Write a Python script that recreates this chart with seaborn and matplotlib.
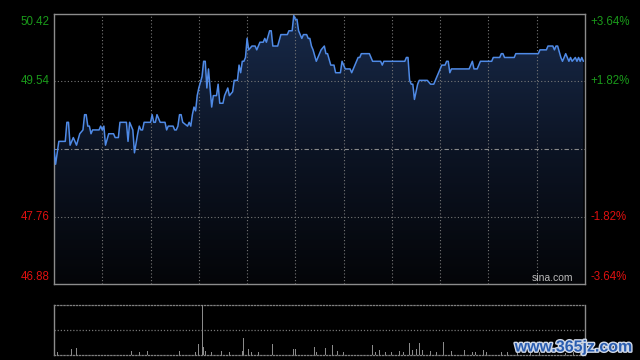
import numpy as np
import pandas as pd
import matplotlib
matplotlib.use("Agg")
import matplotlib.pyplot as plt
import seaborn as sns
from matplotlib import patheffects as pe
from matplotlib.colors import LinearSegmentedColormap
from matplotlib.patches import PathPatch

# ---- data (minute index from 09:30, HK session 330 minutes) ----
minutes = [0, 1, 3, 7, 8, 9, 10, 12, 14, 16, 18, 19, 20, 21, 22, 23, 24, 28, 29, 30,
           31, 32, 34, 37, 38, 40, 41, 45, 46, 47, 49, 50, 52, 53, 54, 55, 56, 60, 61, 62,
           63, 64, 66, 69, 70, 71, 74, 75, 76, 77, 78, 79, 80, 83, 84, 85, 86, 87, 88, 89,
           90, 92, 93, 94, 95, 96, 98, 99, 101, 102, 103, 105, 106, 108, 109, 111, 112, 114, 115, 116,
           117, 118, 119, 120, 121, 123, 125, 126, 128, 130, 131, 132, 134, 135, 136, 139, 141, 145, 146, 148,
           149, 150, 151, 152, 154, 155, 157, 158, 159, 160, 161, 163, 165, 166, 168, 169, 170, 172, 174, 175,
           178, 179, 181, 184, 185, 186, 189, 190, 191, 196, 198, 203, 204, 205, 218, 219, 220, 221, 222, 223,
           224, 226, 227, 232, 234, 236, 238, 239, 241, 243, 244, 245, 246, 247, 258, 260, 261, 263, 265, 272,
           273, 277, 278, 279, 280, 286, 287, 301, 302, 306, 307, 310, 311, 312, 313, 315, 316, 318, 320, 321,
           322, 324, 325, 326, 327, 328, 329]
prices = [48.65, 48.45, 48.75, 48.75, 49.00, 49.00, 48.70, 48.80, 48.70, 48.85, 48.90, 49.10, 49.10, 48.95, 48.95, 48.85, 48.90, 48.90, 48.95, 48.90,
          48.95, 48.70, 48.85, 48.85, 48.80, 48.80, 49.00, 49.00, 48.75, 49.00, 48.90, 48.60, 48.85, 48.95, 48.90, 48.90, 49.00, 49.00, 49.10, 49.00,
          49.00, 49.10, 49.00, 49.00, 48.90, 48.95, 48.95, 48.90, 48.90, 48.95, 49.10, 49.10, 49.00, 48.95, 49.00, 48.95, 49.10, 49.20, 49.15, 49.35,
          49.45, 49.60, 49.80, 49.80, 49.45, 49.70, 49.20, 49.35, 49.35, 49.50, 49.25, 49.25, 49.35, 49.45, 49.35, 49.40, 49.55, 49.55, 49.75, 49.65,
          49.80, 49.80, 49.85, 50.10, 49.95, 50.00, 50.00, 49.95, 50.05, 50.05, 50.10, 50.05, 50.20, 50.20, 50.00, 50.00, 50.15, 50.15, 50.20, 50.20,
          50.40, 50.35, 50.35, 50.20, 50.10, 50.15, 50.15, 50.10, 50.10, 50.00, 49.95, 49.80, 49.90, 49.95, 50.00, 49.90, 49.90, 49.75, 49.75, 49.65,
          49.65, 49.80, 49.70, 49.70, 49.65, 49.70, 49.85, 49.85, 49.90, 49.90, 49.80, 49.80, 49.75, 49.80, 49.80, 49.85, 49.85, 49.55, 49.50, 49.50,
          49.30, 49.50, 49.55, 49.55, 49.50, 49.50, 49.60, 49.65, 49.75, 49.75, 49.80, 49.80, 49.65, 49.70, 49.70, 49.80, 49.70, 49.70, 49.80, 49.80,
          49.85, 49.85, 49.90, 49.90, 49.85, 49.85, 49.90, 49.90, 49.95, 49.95, 50.00, 50.00, 49.95, 50.00, 50.00, 49.85, 49.80, 49.90, 49.80, 49.85,
          49.80, 49.85, 49.80, 49.85, 49.80, 49.85, 49.80]

vol_minutes = [2, 11, 14, 48, 53, 58, 78, 88, 90, 92, 93, 94, 98, 104, 109, 117, 118, 121, 123, 127,
               136, 149, 150, 162, 163, 169, 173, 176, 180, 198, 200, 202, 206, 210, 215, 217, 221, 223, 225, 227,
               229, 234, 238, 242, 247, 255, 260, 262, 267, 269, 278, 282, 288, 296, 302, 318, 323, 327]
volumes = [27, 60, 73, 40, 27, 40, 40, 27, 110, 500, 80, 40, 27, 40, 27, 40, 173, 60, 27, 27,
           110, 60, 60, 83, 33, 73, 100, 40, 27, 100, 33, 50, 27, 27, 40, 27, 117, 50, 60, 123,
           50, 40, 27, 127, 40, 50, 33, 27, 50, 27, 33, 33, 27, 20, 27, 20, 33, 50]

prev_close = 48.65
price_ticks = [50.42, 49.54, 47.76, 46.88]
price_labels = ["50.42", "49.54", "47.76", "46.88"]
pct_labels = ["+3.64%", "+1.82%", "-1.82%", "-3.64%"]
label_colors = ["#1a9a1a", "#1a9a1a", "#e01010", "#e01010"]
grid_minutes = [30, 60, 90, 120, 150, 180, 210, 240, 270, 300]

# ---- style ----
sns.set_theme(style="dark")
plt.rcParams["font.family"] = ["Liberation Sans", "DejaVu Sans"]

fig = plt.figure(figsize=(6.4, 3.6), dpi=100, facecolor="black")
ax = fig.add_axes([54 / 640, 1 - 284 / 360, 531 / 640, 270 / 360])
axv = fig.add_axes([54 / 640, 1 - 355 / 360, 531 / 640, 50 / 360])

for a in (ax, axv):
    a.set_facecolor("black")
    a.grid(False)
    a.set_xticks([])
    a.set_yticks([])
    a.set_xlabel("")
    a.set_ylabel("")

ymin, ymax = price_ticks[-1], price_ticks[0]
ax.set_xlim(0, 330)
ax.set_ylim(ymin, ymax)

df = pd.DataFrame({"minute": minutes, "price": prices})

# gradient area under the line
poly = ax.fill_between(df["minute"], df["price"], ymin, color="none", lw=0)
grad = np.linspace(0, 1, 256).reshape(-1, 1)
cmap = LinearSegmentedColormap.from_list("g", ["#040508", "#0c1424", "#182a4a"])
im = ax.imshow(grad, extent=[0, 330, ymin, ymax], origin="lower", aspect="auto",
               cmap=cmap, zorder=1, interpolation="bilinear")
clip = PathPatch(poly.get_paths()[0], transform=ax.transData, facecolor="none", edgecolor="none")
ax.add_patch(clip)
im.set_clip_path(clip)

# gridlines
for m in grid_minutes:
    ax.axvline(m, color="#777777", ls=(0, (1, 2)), lw=0.8, zorder=2)
for p in (price_ticks[1], price_ticks[2]):
    ax.axhline(p, color="#777777", ls=(0, (1, 2)), lw=0.8, zorder=2)
ax.axhline(prev_close, color="#8a8a8a", ls=(0, (4, 2, 1, 2)), lw=0.8, zorder=2)

sns.lineplot(data=df, x="minute", y="price", ax=ax, color="#4f8ae6", lw=1.1, zorder=3)
ax.set_xlabel("")
ax.set_ylabel("")
ax.set_xticks([])
ax.set_yticks([])

for s in ax.spines.values():
    s.set_visible(True)
    s.set_color("#8c8c8c")
    s.set_linewidth(1.0)

# price / percent labels
vas = ["top", "center", "center", "bottom"]
offs = [-1.5, 0, 0, 0.5]
for p, lab, pl, c, va, o in zip(price_ticks, price_labels, pct_labels, label_colors, vas, offs):
    ax.annotate(lab, xy=(0, p), xycoords=("axes fraction", "data"), xytext=(-3, o),
                textcoords="offset points", ha="right", va=va, color=c, fontsize=8.3)
    ax.annotate(pl, xy=(1, p), xycoords=("axes fraction", "data"), xytext=(4, o),
                textcoords="offset points", ha="left", va=va, color=c, fontsize=8.3)

ax.text(0.977, 0.005, "sina.com", transform=ax.transAxes, ha="right", va="bottom",
        color="#bbbbbb", fontsize=7.5)

# ---- volume panel ----
axv.set_xlim(0, 330)
axv.set_ylim(0, max(volumes))
axv.bar(vol_minutes, volumes, width=0.6, color="#8a8a8a", linewidth=0, zorder=3)
axv.axhline(max(volumes) / 2, color="#777777", ls=(0, (1, 1.5)), lw=0.9)
for side in ("left", "right"):
    axv.spines[side].set_visible(True)
    axv.spines[side].set_color("#8c8c8c")
    axv.spines[side].set_linewidth(1.0)
for side in ("top", "bottom"):
    axv.spines[side].set_visible(True)
    axv.spines[side].set_color("#808080")
    axv.spines[side].set_linestyle((0, (1, 1.5)))
    axv.spines[side].set_linewidth(0.9)

fig.text(633 / 640, 1 - 347 / 360, "www.365jz.com", ha="right", va="center",
         color="#2a5db0", fontsize=11.5, fontweight="bold",
         path_effects=[pe.withStroke(linewidth=2, foreground="#cfd8e8")])

fig.savefig("out.png", dpi=100, facecolor="black")
